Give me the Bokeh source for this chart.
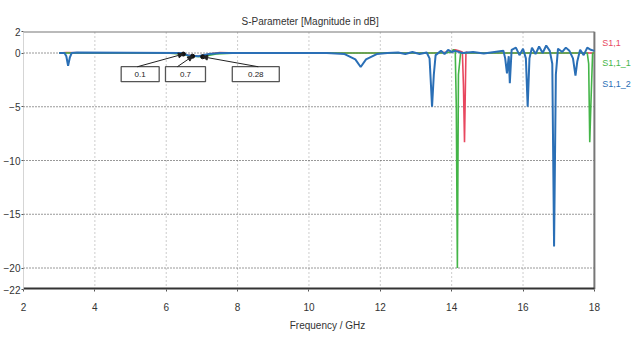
from bokeh.plotting import figure
from bokeh.models import (Range1d, FixedTicker, Label, Arrow, NormalHead)
from bokeh.embed import file_html
from bokeh.resources import INLINE

# ---- data ----
s11_freq = [3.0, 3.2, 4.0, 5.0, 6.0, 6.4, 6.6, 6.8, 7.0, 7.2, 7.5, 8.0, 10.0,
            12.0, 13.5, 14.0, 14.05, 14.1, 14.2, 14.3, 14.33, 14.36, 14.4,
            14.5, 15.0, 16.0, 17.0, 17.5, 18.0]
s11_db = [0, 0.05, 0, 0, 0, -0.05, -0.2, -0.3, -0.3, -0.1, 0.05, 0, 0,
          0, 0, 0.1, 0.3, 0.3, 0.2, 0.1, -3.0, -8.3, 0.1,
          0, 0, 0, 0, 0, 0]

s111_freq = [3.0, 4.0, 6.0, 6.4, 6.7, 7.0, 7.4, 8.0, 10.0, 12.0, 13.8, 14.0,
             14.05, 14.1, 14.13, 14.16, 14.19, 14.25, 14.5, 15.0, 16.0, 17.0,
             17.8, 17.84, 17.87, 17.9, 17.95, 18.0]
s111_db = [0, 0, 0, -0.1, -0.3, -0.35, -0.1, 0, 0, 0, 0, 0.1,
           0.3, 0.2, -5.0, -20.0, -2.0, 0, 0, 0, 0, 0,
           0, -1.0, -8.3, -5.0, 0, 0]

s112_freq = [3.0, 3.15, 3.2, 3.25, 3.3, 3.35, 3.5, 6.4, 6.6, 6.9, 7.2, 7.5,
             10.5, 11.0, 11.3, 11.45, 11.6, 11.9, 12.2, 12.5, 12.7, 12.9,
             13.1, 13.3, 13.38, 13.42, 13.45, 13.5, 13.55, 13.7, 13.8, 13.9,
             14.0, 14.1, 14.3, 14.6, 14.9, 15.2, 15.45, 15.5, 15.55, 15.6,
             15.63, 15.68, 15.8, 15.9, 16.0, 16.08, 16.13, 16.18, 16.25,
             16.35, 16.45, 16.55, 16.65, 16.75, 16.82, 16.87, 16.92, 16.98,
             17.1, 17.2, 17.3, 17.4, 17.47, 17.52, 17.6, 17.7, 17.8, 17.9,
             18.0]
s112_db = [0, 0, -0.3, -1.2, -0.4, 0, 0.05, 0, -0.2, -0.3, -0.1, 0,
           0, -0.1, -0.6, -1.3, -0.6, -0.1, 0, 0.05, -0.1, 0.1,
           -0.1, 0.05, -0.5, -3.0, -5.0, -2.0, -0.2, 0.2, -0.1, 0.3,
           0.1, 0.2, 0.0, 0.1, -0.05, 0.1, 0.2, -0.5, -1.9, -0.3,
           -2.8, 0.3, 0.5, -0.2, 0.4, -0.5, -5.0, -0.5, 0.5,
           -0.1, 0.6, 0.0, 0.7, 0.2, -1.0, -18.0, -2.0, 0.4,
           0.1, 0.5, 0.2, -0.5, -2.1, -0.8, 0.3, -0.2, 0.5, 0.3,
           0.2]

marker_freq = [6.48, 6.74, 7.02]
marker_db = [-0.1, -0.3, -0.35]
marker_labels = ["0.1", "0.7", "0.28"]

x_ticks = [2, 4, 6, 8, 10, 12, 14, 16, 18]
y_ticks = [2, 0, -5, -10, -15, -20, -22]
x_grid = [4, 6, 8, 10, 12, 14, 16]
y_grid = [0, -5, -10, -15, -20]

series_names = ["S1,1", "S1,1_1", "S1,1_2"]
RED, GREEN, BLUE = "#e8475f", "#44b548", "#2a6fb6"
FONT = "Liberation Sans"
X0, X1, Y0, Y1 = x_ticks[0], x_ticks[-1], y_ticks[-1], y_ticks[0]

p = figure(width=631, height=339, output_backend="svg", toolbar_location=None,
           x_range=Range1d(2, 19.04), y_range=Range1d(-22, 2),
           title="S-Parameter [Magnitude in dB]",
           min_border_left=23, min_border_right=0, min_border_top=31,
           min_border_bottom=50)
p.title.align = "left"
p.title.offset = 218
p.title.text_font = FONT
p.title.text_font_size = "10px"
p.title.text_font_style = "normal"
p.title.text_color = "#333333"

p.xaxis.ticker = FixedTicker(ticks=x_ticks)
p.yaxis.ticker = FixedTicker(ticks=y_ticks)
p.xaxis.axis_label = "Frequency / GHz"
for ax in (p.xaxis[0], p.yaxis[0]):
    ax.major_label_text_font = FONT
    ax.major_label_text_color = "#333333"
    ax.minor_tick_line_color = None
    ax.major_tick_in = 0
    ax.major_tick_out = 2
    ax.major_tick_line_color = "#555555"
p.xaxis.major_label_text_font_size = "10px"
p.yaxis.major_label_text_font_size = "10px"
p.xaxis.axis_label_text_font = FONT
p.xaxis.axis_label_text_font_size = "10px"
p.xaxis.axis_label_text_font_style = "normal"
p.xaxis.axis_label_text_color = "#333333"
p.xaxis.axis_label_standoff = 6
p.xaxis.major_label_standoff = 11
p.xaxis.axis_line_color = None
p.yaxis.axis_line_color = "#aaaaaa"
p.yaxis.axis_line_dash = "1 1"
p.yaxis.major_label_standoff = 1

p.grid.grid_line_color = None
p.outline_line_color = None

# grid lines limited to the 2..18 GHz span
p.segment(x0=x_grid, x1=x_grid, y0=[Y0] * len(x_grid), y1=[Y1] * len(x_grid),
          line_color="#9a9a9a", line_dash="1 3", line_width=1)
p.segment(x0=[X0] * len(y_grid), x1=[X1] * len(y_grid), y0=y_grid, y1=y_grid,
          line_color="#333333", line_dash="1 2", line_width=1)
# frame borders (top and right)
p.segment(x0=[X0, X1], x1=[X1, X1], y0=[Y1, Y0], y1=[Y1, Y1],
          line_color="#777777", line_width=2)

p.line(s11_freq, s11_db, line_color=RED, line_width=1.6)
p.line(s111_freq, s111_db, line_color=GREEN, line_width=1.6)
p.line(s112_freq, s112_db, line_color=BLUE, line_width=2)

# bottom axis line
p.segment(x0=[X0], x1=[X1], y0=[Y0], y1=[Y0], line_color="#333333",
          line_width=4)

p.scatter(marker_freq, marker_db, size=4, color="#111111")

box_x = [5.27, 6.54, 8.51]
box_w = [38, 40, 47]
start_x = [5.19, 6.31, 8.58]
for i, lab in enumerate(marker_labels):
    p.rect(x=box_x[i], y=-1.97, width=box_w[i], height=15,
           width_units="screen", height_units="screen",
           fill_color="white", line_color="#555555", line_width=1.3)
    p.add_layout(Label(x=box_x[i], y=-1.97, text=lab, text_align="center",
                       text_baseline="middle", text_font=FONT,
                       text_font_size="8px", text_color="#222222"))
    p.add_layout(Arrow(x_start=start_x[i], y_start=-1.28,
                       x_end=marker_freq[i], y_end=marker_db[i],
                       line_color="#222222", line_width=1,
                       end=NormalHead(size=5, fill_color="#222222",
                                      line_color="#222222")))

for name, col, yy in zip(series_names, [RED, GREEN, BLUE], [0.89, -0.9, -2.86]):
    p.add_layout(Label(x=18.22, y=yy, text=name, text_color=col,
                       text_font=FONT, text_font_size="9px",
                       text_baseline="middle"))

open("out.html", "w").write(file_html(p, INLINE))
